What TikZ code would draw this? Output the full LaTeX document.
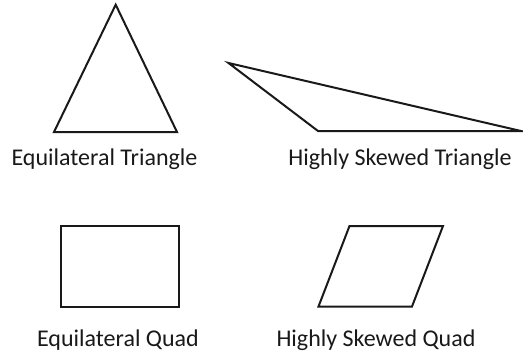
\documentclass[tikz,border=0pt]{standalone}
\usepackage{fontspec}
\setmainfont{Carlito}
\begin{document}
\begin{tikzpicture}[x=1pt,y=-1pt,
  outline/.style={draw=black!90,line width=2pt,line join=miter},
  lbl/.style={font=\fontsize{24}{28}\selectfont,text=black!90,inner sep=0pt,anchor=base}]
\useasboundingbox (0,0) rectangle (523,354);
% equilateral triangle
\coordinate (t1a) at (115.7,4.7);
\coordinate (t1b) at (177,132);
\coordinate (t1c) at (54,132);
\draw[outline] (t1a) -- (t1b) -- (t1c) -- cycle;
% skewed triangle
\coordinate (t2a) at (228.5,63);
\coordinate (t2b) at (521,131);
\coordinate (t2c) at (318,131);
\draw[outline] (t2a) -- (t2b) -- (t2c) -- cycle;
% rectangle
\coordinate (r1) at (60.5,226);
\coordinate (r2) at (178.5,307);
\draw[outline] (r1) rectangle (r2);
% parallelogram
\coordinate (p1) at (349.5,226);
\coordinate (p2) at (443,226);
\coordinate (p3) at (412,306.5);
\coordinate (p4) at (318.5,306.5);
\draw[outline] (p1) -- (p2) -- (p3) -- (p4) -- cycle;
% labels
\node[lbl] (l1) at (104.5,165) {Equilateral Triangle};
\node[lbl] (l2) at (400,165) {Highly Skewed Triangle};
\node[lbl] (l3) at (118,346) {Equilateral Quad};
\node[lbl] (l4) at (376,346) {Highly Skewed Quad};
\end{tikzpicture}
\end{document}
